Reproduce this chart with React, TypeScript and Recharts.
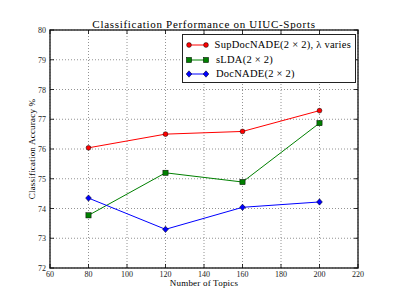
import React from 'react';
import { LineChart, Line, XAxis, YAxis, CartesianGrid, ReferenceArea } from 'recharts';

const topics = [80, 120, 160, 200];
const supDocNade = [76.04, 76.5, 76.59, 77.29];
const slda = [73.77, 75.2, 74.89, 76.87];
const docNade = [74.35, 73.3, 74.04, 74.22];
const xTicks = [60, 80, 100, 120, 140, 160, 180, 200, 220];
const yTicks = [72, 73, 74, 75, 76, 77, 78, 79, 80];

const seriesNames = ['SupDocNADE(2 × 2), λ varies', 'sLDA(2 × 2)', 'DocNADE(2 × 2)'];
const seriesKeys = ['sup', 'slda', 'doc'];
const seriesColors = ['#ff0000', '#008000', '#0000ff'];
const seriesShapes = ['circle', 'square', 'diamond'];

const data = topics.map((t, i) => ({ topics: t, sup: supDocNade[i], slda: slda[i], doc: docNade[i] }));

const W = 399;
const H = 299;
const M = { top: 30, right: 41, bottom: 11, left: 20 };
const YW = 30;
const XH = 20;
const PLOT_W = W - M.left - M.right - YW;
const PLOT_H = H - M.top - M.bottom - XH;
const FONT = '"Liberation Serif", "DejaVu Serif", serif';
const TICK_MARGIN = 4;

function Marker({ cx, cy, shape, color, s = 1 }: any) {
  if (cx == null || cy == null) return null;
  if (shape === 'circle') return <circle cx={cx} cy={cy} r={2.4 * s} fill={color} stroke="#000" strokeWidth={0.5} />;
  if (shape === 'square') return <rect x={cx - 2.6 * s} y={cy - 2.6 * s} width={5.2 * s} height={5.2 * s} fill={color} stroke="#000" strokeWidth={0.5} />;
  const d = 3.2 * s;
  return <polygon points={`${cx},${cy - d} ${cx + d * 0.9},${cy} ${cx},${cy + d} ${cx - d * 0.9},${cy}`} fill={color} stroke="#000" strokeWidth={0.5} />;
}

function XTick(props: any) {
  const { x, y, payload } = props;
  const axisY = y - TICK_MARGIN;
  return (
    <g>
      <line x1={x} y1={axisY} x2={x} y2={axisY - 4} stroke="#000" strokeWidth={0.8} />
      <line x1={x} y1={axisY - PLOT_H} x2={x} y2={axisY - PLOT_H + 4} stroke="#000" strokeWidth={0.8} />
      <text x={x} y={axisY + 9} textAnchor="middle" fontSize={8} fontFamily={FONT} fill="#222" stroke="none">{payload.value}</text>
    </g>
  );
}

function YTick(props: any) {
  const { x, y, payload } = props;
  const axisX = x + TICK_MARGIN;
  return (
    <g>
      <line x1={axisX} y1={y} x2={axisX + 4} y2={y} stroke="#000" strokeWidth={0.8} />
      <line x1={axisX + PLOT_W} y1={y} x2={axisX + PLOT_W - 4} y2={y} stroke="#000" strokeWidth={0.8} />
      <text x={axisX - 4} y={y + 3} textAnchor="end" fontSize={8} fontFamily={FONT} fill="#222" stroke="none">{payload.value}</text>
    </g>
  );
}

function LegendBox() {
  return (
    <div style={{ position: 'absolute', top: 34, left: 182, width: 174, height: 49, border: '1.2px solid #222', background: '#fff', padding: '3px 4px 2px 3px', fontFamily: FONT, fontSize: 10.5, lineHeight: '14.5px', boxSizing: 'border-box', letterSpacing: 0.25 }}>
      {seriesNames.map((n, i) => (
        <div key={n} style={{ display: 'flex', alignItems: 'center', whiteSpace: 'nowrap' }}>
          <svg width={24} height={10} style={{ marginRight: 6 }}>
            <line x1={3} y1={5} x2={20} y2={5} stroke={seriesColors[i]} strokeWidth={1} />
            <Marker cx={3} cy={5} shape={seriesShapes[i]} color={seriesColors[i]} />
            <Marker cx={20} cy={5} shape={seriesShapes[i]} color={seriesColors[i]} />
          </svg>
          <span>{n}</span>
        </div>
      ))}
    </div>
  );
}

export default function App() {
  return (
    <div style={{ position: 'absolute', left: 0, top: 0, width: W, height: H, background: '#fff' }}>
      <div style={{ position: 'absolute', left: M.left + YW - 20, width: PLOT_W + 40, top: 18, textAlign: 'center', fontFamily: FONT, fontSize: 11, letterSpacing: 0.7, color: '#000', whiteSpace: 'nowrap' }}>
        Classification Performance on UIUC-Sports
      </div>
      <LineChart width={W} height={H} data={data} margin={M}>
        <CartesianGrid stroke="#777" strokeDasharray="1 2" strokeWidth={0.8} />
        <XAxis dataKey="topics" type="number" domain={[60, 220]} ticks={xTicks} interval={0} height={XH}
          tickSize={0} tickMargin={TICK_MARGIN} axisLine={false} tickLine={false} tick={<XTick />} />
        <YAxis type="number" domain={[72, 80]} ticks={yTicks} interval={0} width={YW}
          tickSize={0} tickMargin={TICK_MARGIN} axisLine={false} tickLine={false} tick={<YTick />} />
        {seriesKeys.map((k, i) => (
          <Line key={k} dataKey={k} name={seriesNames[i]} stroke={seriesColors[i]} strokeWidth={1}
            isAnimationActive={false}
            dot={(p: any) => <Marker key={`${k}-${p.index}`} cx={p.cx} cy={p.cy} shape={seriesShapes[i]} color={seriesColors[i]} />}
            activeDot={false} />
        ))}
        <ReferenceArea x1={60} x2={220} y1={72} y2={80} fill="none" stroke="#333" strokeWidth={1.5} ifOverflow="visible" />
      </LineChart>
      <LegendBox />
      <div style={{ position: 'absolute', left: M.left + YW, width: PLOT_W, top: 278, textAlign: 'center', fontFamily: FONT, fontSize: 9, letterSpacing: 0.2, color: '#000' }}>
        Number of Topics
      </div>
      <div style={{ position: 'absolute', left: 32 - 100, width: 200, top: M.top + PLOT_H / 2 - 6, textAlign: 'center', fontFamily: FONT, fontSize: 9, letterSpacing: 0.2, color: '#000', transform: 'rotate(-90deg)', lineHeight: '12px' }}>
        Classification Accuracy %
      </div>
    </div>
  );
}
